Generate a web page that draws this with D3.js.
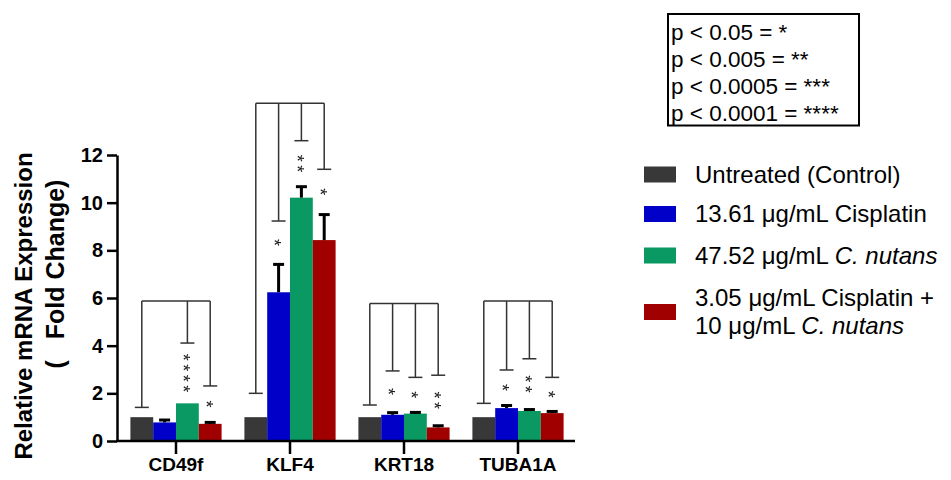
<!DOCTYPE html>
<html>
<head>
<meta charset="utf-8">
<script src="https://cdn.jsdelivr.net/npm/d3@7"></script>
<style>
  body { margin: 0; background: #fff; }
  svg { font-family: Arial, "Liberation Sans", sans-serif; }
</style>
</head>
<body>
<div id="chart"></div>
<script>
// data
const categories = ["CD49f", "KLF4", "KRT18", "TUBA1A"];
const groups = ["control", "cisplatin", "cnutans", "combo"];
const groupColors = ["#383838", "#0000c8", "#0a9963", "#a00000"];

const control   = [1.0, 1.0, 1.0, 1.0];
const cisplatin = [0.78, 6.24, 1.10, 1.38];
const cnutans   = [1.58, 10.21, 1.15, 1.26];
const combo     = [0.72, 8.43, 0.57, 1.17];

const controlErr   = [0, 0, 0, 0];
const cisplatinErr = [0.10, 1.17, 0.09, 0.11];
const cnutansErr   = [0, 0.46, 0.05, 0.06];
const comboErr     = [0.06, 1.07, 0.07, 0.07];

// comparison brackets: top line level and where each leg ends
const bracketTop = [5.87, 14.17, 5.77, 5.87];
const controlLeg   = [1.41, 2.0, 1.51, 1.58];
const cisplatinLeg = [null, 9.23, 2.94, 2.98];
const cnutansLeg   = [4.11, 12.6, 2.67, 3.45];
const comboLeg     = [2.31, 11.4, 2.76, 2.67];

const cisplatinStars = ["", "*", "*", "*"];
const cnutansStars   = ["****", "**", "*", "**"];
const comboStars     = ["*", "*", "**", "*"];

const yTicks = [0, 2, 4, 6, 8, 10, 12];
const legendLabels = [
  [{t: "Untreated (Control)"}],
  [{t: "13.61 \u03bcg/mL Cisplatin"}],
  [{t: "47.52 \u03bcg/mL "}, {t: "C. nutans", i: true}],
  [{t: "3.05 \u03bcg/mL Cisplatin +"}, {br: true}, {t: "10 \u03bcg/mL "}, {t: "C. nutans", i: true}]
];
const pLabels = ["p < 0.05 = *", "p < 0.005 = **", "p < 0.0005 = ***", "p < 0.0001 = ****"];

const values = [control, cisplatin, cnutans, combo];
const errors = [controlErr, cisplatinErr, cnutansErr, comboErr];
const legs = [controlLeg, cisplatinLeg, cnutansLeg, comboLeg];
const stars = [null, cisplatinStars, cnutansStars, comboStars];

const width = 951, height = 480;
const svg = d3.select("#chart").append("svg")
  .attr("width", width)
  .attr("height", height);

const x = d3.scaleBand().domain(categories).range([119, 575]).paddingInner(0.2).paddingOuter(0.1);
const x1 = d3.scaleBand().domain(groups).range([0, x.bandwidth()]);
const y = d3.scaleLinear().domain([0, 12]).range([441, 155]);

// build flat table for bars
const rows = [];
categories.forEach((c, ci) => {
  groups.forEach((g, gi) => {
    rows.push({cat: c, ci: ci, g: g, gi: gi, v: values[gi][ci], e: errors[gi][ci],
      leg: legs[gi][ci], s: stars[gi] ? stars[gi][ci] : ""});
  });
});
const cx = d => x(d.cat) + x1(d.g) + x1.bandwidth() / 2;

// bars
svg.append("g").selectAll("rect").data(rows).enter().append("rect")
  .attr("x", d => x(d.cat) + x1(d.g))
  .attr("width", x1.bandwidth())
  .attr("y", d => y(d.v))
  .attr("height", d => y(0) - y(d.v))
  .attr("fill", d => groupColors[d.gi]);

// error bars (upper only)
const eb = svg.append("g").attr("stroke", "#000").attr("stroke-width", 3);
rows.filter(d => d.e > 0).forEach(d => {
  eb.append("line").attr("x1", cx(d)).attr("x2", cx(d)).attr("y1", y(d.v)).attr("y2", y(d.v + d.e));
  eb.append("line").attr("x1", cx(d) - 5.5).attr("x2", cx(d) + 5.5).attr("y1", y(d.v + d.e)).attr("y2", y(d.v + d.e));
});

// brackets
const br = svg.append("g").attr("stroke", "#333").attr("stroke-width", 1.5).attr("fill", "none");
categories.forEach((c, ci) => {
  const sub = rows.filter(d => d.ci === ci && d.leg != null);
  const top = y(bracketTop[ci]);
  br.append("line").attr("x1", cx(sub[0])).attr("x2", cx(sub[sub.length - 1]))
    .attr("y1", top).attr("y2", top);
  sub.forEach(d => {
    br.append("line").attr("x1", cx(d)).attr("x2", cx(d)).attr("y1", top).attr("y2", y(d.leg));
    br.append("line").attr("x1", cx(d) - 7).attr("x2", cx(d) + 7).attr("y1", y(d.leg)).attr("y2", y(d.leg));
  });
});

// significance stars, stacked vertically between bar and bracket leg
const starSize = 18;
svg.append("g").attr("opacity", 0.99).selectAll("text").data(rows.filter(d => d.s)).enter().append("text")
  .attr("transform", d => {
    const mid = (y(d.v + d.e) + y(d.leg)) / 2;
    return "translate(" + (cx(d) - 0.57 * starSize) + "," + (mid + 1.5) + ") rotate(90)";
  })
  .attr("text-anchor", "middle")
  .attr("font-size", starSize)
  .attr("letter-spacing", 3.5)
  .attr("fill", "#1a1a1a")
  .text(d => d.s);

// y axis
const yAxis = svg.append("g")
  .attr("transform", "translate(117,0)")
  .call(d3.axisLeft(y).tickValues(yTicks).tickSize(10).tickSizeOuter(0).tickPadding(4));
yAxis.select(".domain").attr("stroke", "#000").attr("stroke-width", 2.5);
yAxis.selectAll(".tick line").attr("stroke", "#000").attr("stroke-width", 2.5);
yAxis.selectAll(".tick text").attr("font-size", 20).attr("font-weight", "bold")
  .attr("font-family", "Arial, 'Liberation Sans', sans-serif").attr("fill", "#000");

// x axis
const xAxis = svg.append("g")
  .attr("transform", "translate(0," + y(0) + ")")
  .call(d3.axisBottom(x).tickSize(13).tickSizeOuter(0).tickPadding(4));
xAxis.select(".domain").remove();
xAxis.append("line").attr("x1", 116).attr("x2", 575).attr("stroke", "#000").attr("stroke-width", 2.5);
xAxis.selectAll(".tick line").attr("stroke", "#000").attr("stroke-width", 2.5);
xAxis.selectAll(".tick text").attr("font-size", 19).attr("font-weight", "bold")
  .attr("font-family", "Arial, 'Liberation Sans', sans-serif").attr("fill", "#000");

// y label
svg.append("text")
  .attr("transform", "translate(32,306) rotate(-90)")
  .attr("text-anchor", "middle").attr("font-size", 24).attr("font-weight", "bold")
  .text("Relative mRNA Expression");
svg.append("text")
  .attr("transform", "translate(64,274) rotate(-90)")
  .attr("text-anchor", "middle").attr("font-size", 25).attr("font-weight", "bold")
  .style("white-space", "pre")
  .text("(   Fold Change)");

// legend
const lg = svg.append("g").attr("font-size", 24);
const rowY = [174.5, 214, 255.5, 312];
legendLabels.forEach((parts, i) => {
  lg.append("rect").attr("x", 644).attr("y", rowY[i] - 8).attr("width", 32).attr("height", 16)
    .attr("fill", groupColors[i]);
  const lines = parts.some(p => p.br) ? 2 : 1;
  const t = lg.append("text").attr("x", 695).attr("y", rowY[i] + 8 - (lines - 1) * 14);
  let first = true;
  parts.forEach(p => {
    if (p.br) { first = "br"; return; }
    const ts = t.append("tspan").text(p.t);
    if (first === "br") ts.attr("x", 695).attr("dy", 28);
    if (p.i) ts.attr("font-style", "italic");
    first = false;
  });
});

// p-value key box
svg.append("rect").attr("x", 668).attr("y", 14).attr("width", 191).attr("height", 111.5)
  .attr("fill", "none").attr("stroke", "#000").attr("stroke-width", 2);
svg.append("g").attr("font-size", 22.5).selectAll("text").data(pLabels).enter().append("text")
  .attr("x", 671).attr("y", (d, i) => 40 + i * 27)
  .text(d => d);
</script>
</body>
</html>
